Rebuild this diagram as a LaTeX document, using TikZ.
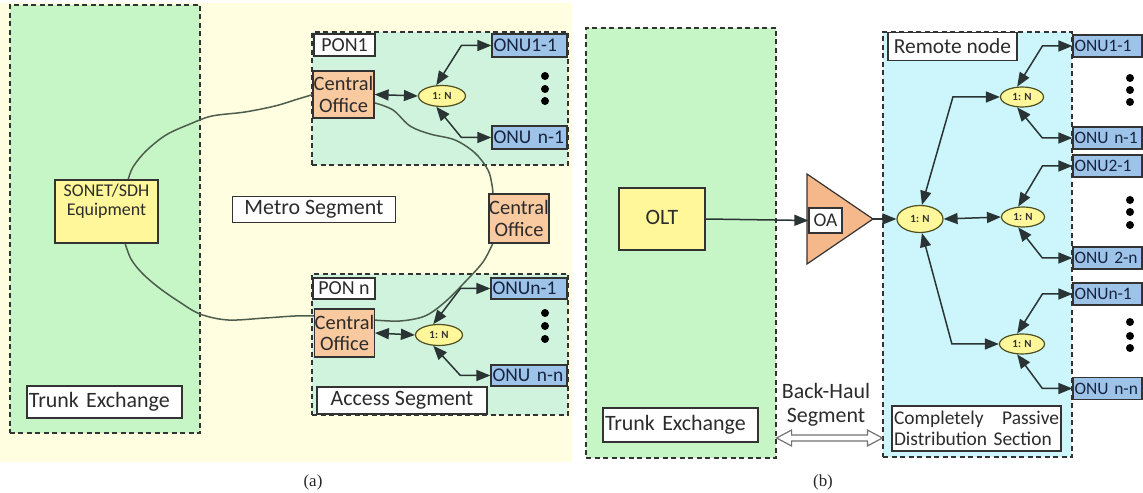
\documentclass[tikz,border=0pt]{standalone}
\usepackage{fontspec}
\setmainfont{Carlito}
\newfontfamily\capfont{Liberation Serif}
\usetikzlibrary{arrows.meta,calc,shapes.geometric}
\definecolor{bgyel}{HTML}{FFFEE0}
\definecolor{tegreen}{HTML}{C6F6C6}
\definecolor{ponfill}{HTML}{CFF3DC}
\definecolor{rncyan}{HTML}{CCF6FC}
\definecolor{coc}{HTML}{F9C99F}
\definecolor{yelc}{HTML}{FFF799}
\definecolor{onuc}{HTML}{9DC3E8}
\definecolor{oac}{HTML}{F5B88B}
\definecolor{boxc}{HTML}{333333}
\definecolor{txtc}{HTML}{2C2C2C}
\definecolor{onutxt}{HTML}{16243F}
\definecolor{arrc}{HTML}{2A3434}
\definecolor{fibc}{HTML}{4D5D4D}
\definecolor{splc}{HTML}{4F4F20}
\tikzset{
  bi/.style={arrows={Triangle[length=14bp,width=11bp]-Triangle[length=14bp,width=11bp]}},
  uni/.style={arrows={-Triangle[length=14bp,width=11bp]}}
}
\begin{document}
\begin{tikzpicture}[x=1bp,y=-1bp,
  region/.style={draw=boxc, dash pattern=on 5bp off 3.5bp, line width=1.2bp, inner sep=0pt},
  labbox/.style={draw=boxc, fill=white, line width=1.2bp, text=txtc, inner xsep=2bp, inner ysep=0pt, font=\fontsize{22}{26}\selectfont},
  cobox/.style={draw=boxc, fill=coc, line width=1.2bp, align=center, inner sep=0pt, text=txtc, font=\fontsize{20.5}{22}\selectfont},
  eqbox/.style={draw=boxc, fill=yelc, line width=1.2bp, inner sep=0pt, text=txtc},
  onubox/.style={draw=boxc, fill=onuc, line width=1.2bp, inner xsep=1.5bp, inner ysep=0pt, align=left, text=onutxt},
  splitter/.style={ellipse, draw=splc, fill=yelc, line width=1.2bp, inner sep=0pt, text=black!80, font=\fontsize{11}{12}\selectfont\bfseries},
  link/.style={draw=arrc, line width=1.5bp},
  fiber/.style={draw=fibc, line width=1.5bp},
  dotc/.style={fill=black},
  caption/.style={font=\capfont\fontsize{17}{19}\selectfont, text=black!85}
]
\useasboundingbox (0,0) rectangle (1143,493);
% ---------------- panel (a) ----------------
\fill[bgyel] (0,3) rectangle (572,462);
\node[region, fill=tegreen, minimum width=190bp, minimum height=428bp] (te1) at (105,219) {};
\node[region, fill=ponfill, minimum width=256bp, minimum height=133bp] (pon1) at (440,98.5) {};
\node[region, fill=ponfill, minimum width=256bp, minimum height=141bp] (ponn) at (440,344.5) {};

\node[labbox, text width=151bp, align=left, minimum height=32bp] (te1lab) at (104.5,402) {Trunk Exchange};
\node[labbox, minimum width=163bp, minimum height=26bp] (metro) at (314,209.5) {Metro Segment};
\node[labbox, minimum width=170bp, minimum height=27bp] (access) at (402,400.5) {Access Segment};
\node[labbox, minimum width=61bp, minimum height=22bp, font=\fontsize{20}{22}\selectfont] (pon1lab) at (344.5,45) {PON1};
\node[labbox, minimum width=62bp, minimum height=21bp, font=\fontsize{20}{22}\selectfont] (ponnlab) at (344,288.5) {PON n};

% fibre ring (under the boxes)
\coordinate (sonetN) at (106.5,180);
\coordinate (sonetS) at (106.5,243);
\coordinate (co1W) at (313,94.5);
\coordinate (f1a) at ($(sonetN)+(21.5,0)$);
\coordinate (f2a) at ($(sonetS)+(18.5,0)$);
\coordinate (f3a) at (375,103);
\coordinate (f3b) at (493,194);
\coordinate (f4a) at (493,243);
\coordinate (f4b) at (374,320);
\coordinate (f2b) at (315,316);
\draw[fiber] plot[smooth, tension=0.55] coordinates {(f1a) (133,167) (146,151) (166,135) (190,124) (212,116) (245,112) (275,106) (298,99) (co1W)};
\draw[fiber] plot[smooth, tension=0.55] coordinates {(f2a) (131,259) (142,273) (158,287) (178,301) (200,314) (228,320) (265,318) (295,316) (f2b)};
\draw[fiber] plot[smooth, tension=0.55] coordinates {(f3a) (393,110) (410,126) (430,134) (455,140) (475,153) (488,170) (492,185) (f3b)};
\draw[fiber] plot[smooth, tension=0.55] coordinates {(f4a) (483,262) (465,282) (445,302) (425,316) (400,321) (f4b)};

\node[eqbox, minimum width=103bp, minimum height=63bp] (sonet) at (106.5,211.5) {};
\node[anchor=north, align=center, text=txtc, inner sep=0pt, font=\fontsize{18}{19.5}\selectfont] (sonettext) at ($(sonet.north)+(0,4)$) {SONET/SDH\\Equipment};

\node[cobox, minimum width=61bp, minimum height=47bp] (co1) at (343.5,94.5) {Central\\Office};
\node[cobox, minimum width=60bp, minimum height=49bp] (co2) at (519,218.5) {Central\\Office};
\node[cobox, minimum width=59bp, minimum height=48bp] (co3) at (344.5,333) {Central\\Office};

\node[splitter, minimum width=47bp, minimum height=21bp] (sp1) at (442,96) {1: N};
\node[splitter, minimum width=47bp, minimum height=21bp] (sp2) at (439,335) {1: N};

\node[onubox, text width=72bp, minimum height=23bp, font=\fontsize{19.5}{20}\selectfont] (onu11) at (529.5,45.5) {ONU1-1};
\node[onubox, text width=72bp, minimum height=23bp, font=\fontsize{19.5}{20}\selectfont] (onu1n) at (529.5,137.5) {ONU n-1};
\node[onubox, text width=73bp, minimum height=21bp, font=\fontsize{19.5}{20}\selectfont] (onun1) at (529,288.5) {ONUn-1};
\node[onubox, text width=73bp, minimum height=21bp, font=\fontsize{19.5}{20}\selectfont] (onunn) at (529,375.5) {ONU n-n};

\foreach \yy in {76,89,101,313,326,339} \fill[dotc] (545,\yy) circle (4bp);

\draw[link, bi] (co1.east) -- (sp1.west);
\draw[link, bi] (sp1.118) -- ($(onu11.west)+(-30,0)$) -- (onu11.west);
\draw[link, bi] (sp1.242) -- ($(onu1n.west)+(-30,0)$) -- (onu1n.west);
\draw[link, bi] (co3.east) -- (sp2.west);
\draw[link, bi] (sp2.118) -- ($(onun1.west)+(-30,0)$) -- (onun1.west);
\draw[link, bi] (sp2.242) -- ($(onunn.west)+(-30,0)$) -- (onunn.west);

\node[caption] (capa) at (313,482) {(a)};

% ---------------- panel (b) ----------------
\node[region, fill=tegreen, minimum width=190bp, minimum height=430bp] (te2) at (681,243) {};
\node[region, fill=rncyan, minimum width=189bp, minimum height=425bp] (rn) at (977.5,244.5) {};

\node[eqbox, minimum width=86bp, minimum height=62bp, font=\fontsize{22}{24}\selectfont] (olt) at (662,219) {\raisebox{4bp}{OLT}};
\node[labbox, text width=151bp, align=left, minimum height=34bp] (te2lab) at (680.5,425) {Trunk Exchange};

\fill[oac] (807,174) -- (873,219) -- (807,264) -- cycle;
\draw[boxc, line width=1.2bp, line join=miter] (807,174) -- (873,219) -- (807,264) -- cycle;
\coordinate (oatip) at (873,219);
\node[labbox, minimum width=33bp, minimum height=25bp, inner xsep=0pt, font=\fontsize{19.5}{21}\selectfont] (oalab) at (825.5,220.5) {OA};

\node[align=center, text=txtc, inner sep=0pt, font=\fontsize{22}{24}\selectfont] (bhtext) at (826,405) {Back-Haul\\Segment};
\coordinate (ybh) at (0,438);
\coordinate (bhL) at (te2.east |- ybh);
\coordinate (bhR) at (rn.west |- ybh);
\draw[draw=black!55, fill=white, line width=1.2bp, line join=miter]
  (bhL) -- ++(15,-8) -- ++(0,5) -- ($(bhR)+(-15,-3)$) -- ++(0,-5) -- (bhR)
  -- ++(-15,8) -- ++(0,-5) -- ($(bhL)+(15,3)$) -- ++(0,5) -- cycle;

\node[labbox, minimum width=129bp, minimum height=28bp, font=\fontsize{21.5}{24}\selectfont] (rnlab) at (952.5,46.5) {Remote node};
\node[labbox, text width=165bp, align=left, minimum height=45bp, font=\fontsize{19.5}{21}\selectfont] (cpds) at (976.5,428.5) {Completely\hfill Passive\\Distribution Section};

\node[splitter, minimum width=46bp, minimum height=27bp] (spm) at (920,219) {1: N};
\node[splitter, minimum width=43bp, minimum height=20bp] (spt) at (1022,97) {1: N};
\node[splitter, minimum width=43bp, minimum height=20bp] (spmid) at (1023,217) {1: N};
\node[splitter, minimum width=45bp, minimum height=20bp] (spb) at (1022,344) {1: N};

\foreach \nm/\yy/\tx in {r11/46/ONU1-1, r1n/138/ONU n-1, r21/166/ONU2-1, r2n/258/ONU 2-n, rn1/294/ONUn-1, rnn/388.5/ONU n-n}
  \node[onubox, text width=66bp, minimum height=22bp, font=\fontsize{17.5}{18}\selectfont] (\nm) at (1107.5,\yy) {\tx};

\foreach \yy in {78,90,102,200,212,225,322,336,348} \fill[dotc] (1130,\yy) circle (4bp);

\draw[link, uni] (olt.east) -- (oalab.west);
\draw[link, uni] (oatip) -- (spm.west);
\draw[link, bi] (spm.east) -- (spmid.west);
\draw[link, bi] (spm.82) -- ($(spt.west)+(-47,0)$) -- (spt.west);
\draw[link, bi] (spm.278) -- ($(spb.west)+(-47,0)$) -- (spb.west);
\draw[link, bi] (spt.115) -- ($(r11.west)+(-30,0)$) -- (r11.west);
\draw[link, bi] (spt.245) -- ($(r1n.west)+(-30,0)$) -- (r1n.west);
\draw[link, bi] (spmid.115) -- ($(r21.west)+(-30,0)$) -- (r21.west);
\draw[link, bi] (spmid.245) -- ($(r2n.west)+(-30,0)$) -- (r2n.west);
\draw[link, bi] (spb.115) -- ($(rn1.west)+(-30,0)$) -- (rn1.west);
\draw[link, bi] (spb.245) -- ($(rnn.west)+(-30,0)$) -- (rnn.west);

\node[caption] (capb) at (823,482) {(b)};
\end{tikzpicture}
\end{document}
